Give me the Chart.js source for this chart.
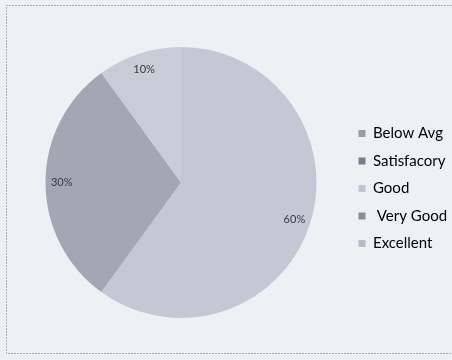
<!DOCTYPE html>
<html>
<head>
<meta charset="utf-8">
<script src="https://cdn.jsdelivr.net/npm/chart.js@4.4.0/dist/chart.umd.min.js"></script>
<style>
  html, body { margin: 0; padding: 0; background: #eef1f3; }
  #wrap { width: 452px; height: 360px; }
</style>
</head>
<body>
<div id="wrap"><canvas id="pie" width="452" height="360"></canvas></div>
<script>
// legend text is kept as printed on the original (typo and leading space included)
const CATEGORIES = ["Below Avg", "Satisfacory", "Good", " Very Good", "Excellent"];
const VALUES = [0, 0, 60, 30, 10];
const SLICE_COLORS = ["#9d9eab", "#80818f", "#c5c7d4", "#a4a6b4", "#c9cbd7"];
const SWATCH_COLORS = ["#9a9ba8", "#7c7d8c", "#c2c4d1", "#8c8d9a", "#b8bac8"];

const FONT = "Lato, 'Open Sans', sans-serif";
const LEGEND_WIDTH = 106;

// paper background + dotted frame of the scanned chart box
const paperPlugin = {
  id: "paper",
  beforeDraw(chart) {
    const { ctx, width } = chart;
    ctx.save();
    ctx.fillStyle = "#eef1f3";
    ctx.fillRect(0, 0, width, chart.height);
    ctx.strokeStyle = "#a9aeb5";
    ctx.lineWidth = 1;
    ctx.setLineDash([2, 1]);
    ctx.beginPath();
    ctx.moveTo(width, 5.5);
    ctx.lineTo(6.5, 5.5);
    ctx.lineTo(6.5, 353.5);
    ctx.lineTo(width, 353.5);
    ctx.stroke();
    ctx.restore();
  },
};

// fixed legend width, and push the legend column a bit lower than the pie centre
const legendFit = {
  id: "legendFit",
  beforeInit(chart) {
    const fit = chart.legend.fit;
    chart.legend.fit = function () {
      fit.call(this);
      this.width = LEGEND_WIDTH;
    };
  },
  afterLayout(chart) {
    chart.legend.top += 6;
    chart.legend.bottom += 6;
  },
};

const pctLabels = {
  id: "pctLabels",
  afterDatasetsDraw(chart) {
    const { ctx } = chart;
    const meta = chart.getDatasetMeta(0);
    const total = VALUES.reduce((a, b) => a + b, 0);
    ctx.save();
    ctx.font = `11px ${FONT}`;
    ctx.fillStyle = "#3a3a3a";
    ctx.textAlign = "center";
    ctx.textBaseline = "middle";
    meta.data.forEach((arc, i) => {
      if (!VALUES[i]) return;
      const p = arc.getProps(["x", "y", "startAngle", "endAngle", "outerRadius"], true);
      const mid = (p.startAngle + p.endAngle) / 2;
      const r = p.outerRadius * 0.88;
      ctx.fillText(Math.round((VALUES[i] / total) * 100) + "%", p.x + Math.cos(mid) * r, p.y + Math.sin(mid) * r);
    });
    ctx.restore();
  },
};

new Chart(document.getElementById("pie"), {
  type: "pie",
  data: {
    labels: CATEGORIES,
    datasets: [
      {
        data: VALUES,
        backgroundColor: SLICE_COLORS,
        borderWidth: 0,
      },
    ],
  },
  options: {
    responsive: false,
    animation: false,
    layout: { padding: { left: 16, right: 0, top: 47, bottom: 42 } },
    plugins: {
      tooltip: { enabled: false },
      legend: {
        position: "right",
        labels: {
          boxWidth: 7,
          boxHeight: 7,
          padding: 12.5,
          color: "#141414",
          font: { family: FONT, size: 15 },
          generateLabels() {
            return CATEGORIES.map((text, i) => ({
              text,
              fillStyle: SWATCH_COLORS[i],
              strokeStyle: SWATCH_COLORS[i],
              lineWidth: 0,
              hidden: false,
              index: i,
              datasetIndex: 0,
            }));
          },
        },
      },
    },
  },
  plugins: [paperPlugin, legendFit, pctLabels],
});
</script>
</body>
</html>
